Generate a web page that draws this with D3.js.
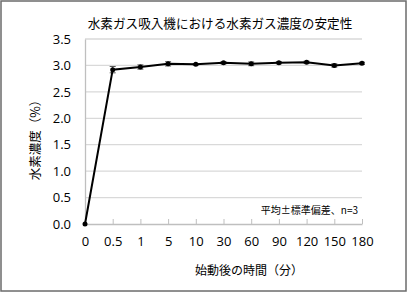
<!DOCTYPE html>
<html>
<head>
<meta charset="utf-8">
<script src="https://cdn.jsdelivr.net/npm/d3@7"></script>
<style>
  body { margin: 0; background: #fff; }
  svg { display: block; }
  text { font-family: "Noto Sans CJK JP", "Noto Sans", sans-serif; fill: #000; }
</style>
</head>
<body>
<div class="chart"></div>
<script>
// data
const times = ["0", "0.5", "1", "5", "10", "30", "60", "90", "120", "150", "180"];
const meanValues = [0, 2.92, 2.97, 3.03, 3.02, 3.05, 3.03, 3.05, 3.06, 3.00, 3.04];
const sdValues = [0, 0.06, 0.04, 0.04, 0.015, 0.02, 0.035, 0.02, 0.02, 0.03, 0.02];
const yTicks = [0, 0.5, 1.0, 1.5, 2.0, 2.5, 3.0, 3.5];

const width = 408, height = 293;
const margin = {top: 39, right: 46, bottom: 69, left: 85};
const plotW = width - margin.left - margin.right;
const plotH = height - margin.top - margin.bottom;

let data = times.map(function (t, i) {
    return {t: t, mean: meanValues[i], sd: sdValues[i]};
});

let svg = d3.select('.chart')
    .append("svg")
        .attr("width", width)
        .attr("height", height);

// outer frame
svg.append("rect")
    .attr("x", 1).attr("y", 1)
    .attr("width", width - 3).attr("height", height - 3)
    .attr("fill", "#fff")
    .attr("stroke", "#6b6b6b")
    .attr("stroke-width", 1.5);

let g = svg.append("g")
    .attr("transform", "translate(" + margin.left + "," + margin.top + ")");

const x = d3.scalePoint()
    .domain(times)
    .range([0, plotW]);

const y = d3.scaleLinear()
    .domain([0, 3.5])
    .range([plotH, 0]);

// horizontal gridlines
g.append("g")
    .selectAll("line")
    .data(yTicks.slice(1))
    .join("line")
        .attr("x1", 0).attr("x2", plotW)
        .attr("y1", d => y(d)).attr("y2", d => y(d))
        .attr("stroke", "#d9d9d9")
        .attr("stroke-width", 1.3);

// Y axis
let yAxis = g.append("g")
    .call(d3.axisLeft(y).tickValues(yTicks).tickFormat(d3.format(".1f")).tickSize(0).tickPadding(14));
yAxis.select(".domain").attr("stroke", "#bfbfbf").attr("stroke-width", 1.3);
yAxis.selectAll("text")
    .style("font-family", "'Open Sans', 'Noto Sans', sans-serif")
    .style("font-size", "13px");

// X axis, ticks point inward
let xAxis = g.append("g")
    .attr("transform", "translate(0," + plotH + ")")
    .call(d3.axisBottom(x).tickSizeInner(-5).tickSizeOuter(0).tickPadding(13));
xAxis.select(".domain").attr("stroke", "#bfbfbf").attr("stroke-width", 1.3);
xAxis.selectAll(".tick line").attr("stroke", "#bfbfbf");
xAxis.selectAll("text")
    .style("font-family", "'Open Sans', 'Noto Sans', sans-serif")
    .style("font-size", "13px");

// error bars
let err = g.append("g").selectAll("g")
    .data(data.filter(d => d.sd > 0))
    .join("g")
    .attr("stroke", "#555")
    .attr("stroke-width", 1);
err.append("line")
    .attr("x1", d => x(d.t)).attr("x2", d => x(d.t))
    .attr("y1", d => y(d.mean - d.sd)).attr("y2", d => y(d.mean + d.sd));
err.append("line")
    .attr("x1", d => x(d.t) - 3).attr("x2", d => x(d.t) + 3)
    .attr("y1", d => y(d.mean - d.sd)).attr("y2", d => y(d.mean - d.sd));
err.append("line")
    .attr("x1", d => x(d.t) - 3).attr("x2", d => x(d.t) + 3)
    .attr("y1", d => y(d.mean + d.sd)).attr("y2", d => y(d.mean + d.sd));

// the line
g.append("path")
    .datum(data)
    .attr("fill", "none")
    .attr("stroke", "#000")
    .attr("stroke-width", 2)
    .attr("d", d3.line()
        .x(d => x(d.t))
        .y(d => y(d.mean)));

// markers
g.append("g").selectAll("circle")
    .data(data)
    .join("circle")
        .attr("cx", d => x(d.t))
        .attr("cy", d => y(d.mean))
        .attr("r", 2.5)
        .attr("fill", "#000");

// title
svg.append("text")
    .attr("x", 220).attr("y", 28)
    .attr("text-anchor", "middle")
    .style("font-size", "12.6px")
    .text("水素ガス吸入機における水素ガス濃度の安定性");

// y label
svg.append("text")
    .attr("transform", "translate(40,137) rotate(-90)")
    .attr("text-anchor", "middle")
    .style("font-size", "12.5px")
    .text("水素濃度（%）");

// x label
svg.append("text")
    .attr("x", 249).attr("y", 275)
    .attr("text-anchor", "middle")
    .style("font-size", "12px")
    .text("始動後の時間（分）");

// note
svg.append("text")
    .attr("x", 358).attr("y", 214)
    .attr("text-anchor", "end")
    .style("font-size", "10px")
    .text("平均±標準偏差、n=3");
</script>
</body>
</html>
